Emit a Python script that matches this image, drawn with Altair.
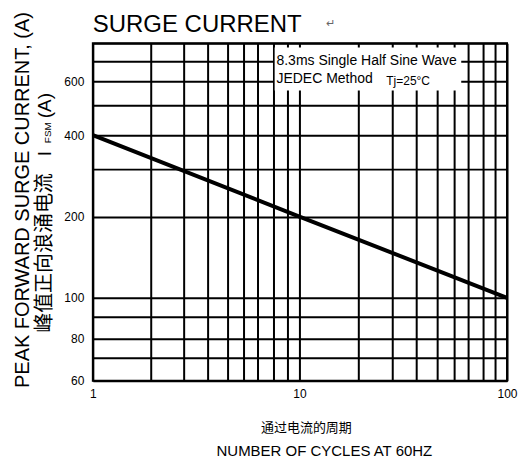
import altair as alt
import pandas as pd

# ---- data ----
cycles = [1, 10, 100]
current = [400, 200, 100]

x_grid = [1, 2, 3, 4, 5, 6, 7, 8, 9, 10, 20, 30, 40, 50, 60, 70, 80, 90, 100]
x_labels = [1, 10, 100]
y_grid = [60, 70, 80, 90, 100, 200, 300, 400, 500, 600, 700, 800]
y_labels = [60, 80, 100, 200, 400, 600]

title_text = "SURGE CURRENT"
return_mark = "\u21b5"
note_lines = ["8.3ms Single Half Sine Wave", "JEDEC Method"]
note_temp = "Tj=25°C"
note_box_x = [8.1, 65]
note_box_y = [561, 776]
y_title_en = "PEAK FORWARD SURGE CURRENT, (A)"
y_title_cn = "峰值正向浪涌电流"
y_title_sym = "I"
y_title_sub = "FSM"
y_title_unit = "(A)"
x_title_cn = "通过电流的周期"
x_title_en = "NUMBER OF CYCLES AT 60HZ"

# ---- layout / style ----
W, H = 415, 338
SANS = "'Liberation Sans', Arial, sans-serif"
CJK = "'Noto Sans CJK SC', sans-serif"

# the printed grid is hand-drawn: piecewise log scales follow its gridlines
x_scale = alt.Scale(type="log", domain=[1, 4, 7, 10, 40, 70, 100],
                    range=[0, 115, 165, 207, 324, 376, W], nice=False)
y_scale = alt.Scale(type="log", domain=[60, 80, 100, 400, 800],
                    range=[H, 296, 255, 92, 0], nice=False)


def label_expr(vals):
    return "indexof([" + ",".join(str(v) for v in vals) + "], datum.value) >= 0 ? format(datum.value, 'd') : ''"


x_axis = alt.Axis(values=x_grid, labelExpr=label_expr(x_labels), ticks=False, domain=False,
                  grid=True, gridColor="black", gridWidth=2, gridOpacity=1,
                  labelFont=SANS, labelFontSize=12, labelColor="black", labelPadding=8,
                  labelFlush=False, labelOverlap=False, title=None)
y_axis = alt.Axis(values=y_grid, labelExpr=label_expr(y_labels), ticks=False, domain=False,
                  grid=True, gridColor="black", gridWidth=2, gridOpacity=1,
                  labelFont=SANS, labelFontSize=12, labelColor="black", labelPadding=9,
                  labelFlush=False, labelOverlap=False, title=None)

line_df = pd.DataFrame({"cycles": cycles, "current": current})
box_df = pd.DataFrame({"x": [note_box_x[0]], "x2": [note_box_x[1]],
                       "y": [note_box_y[0]], "y2": [note_box_y[1]]})

box = alt.Chart(box_df).mark_rect(fill="white", strokeWidth=0).encode(
    x=alt.X("x:Q", scale=x_scale, axis=x_axis),
    x2="x2",
    y=alt.Y("y:Q", scale=y_scale, axis=y_axis),
    y2="y2",
)

line = alt.Chart(line_df).mark_line(color="black", strokeWidth=4).encode(
    x=alt.X("cycles:Q", scale=x_scale, axis=x_axis),
    y=alt.Y("current:Q", scale=y_scale, axis=y_axis),
)


def txt(s, x, y, size, font, align="left", baseline="alphabetic", angle=0, color="black"):
    kw = dict(text=s, align=align, baseline=baseline, fontSize=size, font=font, color=color)
    if angle:
        kw["angle"] = angle
    return alt.Chart(alt.Data(values=[{}])).mark_text(**kw).encode(
        x=alt.value(x), y=alt.value(y))


texts = [
    txt(title_text, 0, -11, 24, SANS),
    txt(return_mark, 234, -16, 11, SANS, color="#666666"),
    txt(note_lines[0], 184, 22, 14, SANS),
    txt(note_lines[1], 184, 40, 14, SANS),
    txt(note_temp, 294, 42, 12, SANS),
    # y title, two rotated lines
    txt(y_title_en, -70, 157, 20, SANS, align="center", baseline="middle", angle=270),
    txt(y_title_cn, -48, 290, 20, CJK, align="left", baseline="middle", angle=270),
    txt(y_title_sym, -48, 113, 19, SANS, align="left", baseline="middle", angle=270),
    txt(y_title_sub, -45, 100, 10, SANS, align="left", baseline="middle", angle=270),
    txt(y_title_unit, -48, 75, 19, SANS, align="left", baseline="middle", angle=270),
    # x title, two lines
    txt(x_title_cn, 214, 385, 13, CJK, align="center", baseline="middle"),
    txt(x_title_en, 232, 408, 15, SANS, align="center", baseline="middle"),
]

chart = alt.layer(box, line, *texts).properties(
    width=W, height=H,
    autosize=alt.AutoSizeParams(type="none"),
    padding={"left": 85, "top": 35, "right": 12, "bottom": 77},
).configure_view(stroke="black", strokeWidth=2)

chart.save("out.html", embed_options={"renderer": "svg", "actions": False})
